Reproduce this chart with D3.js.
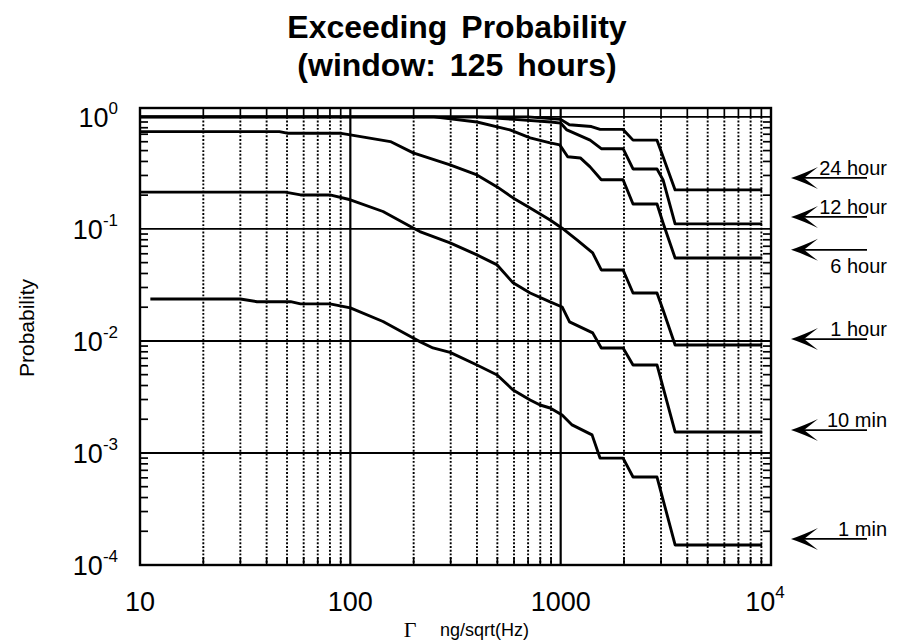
<!DOCTYPE html>
<html>
<head>
<meta charset="utf-8">
<script src="https://cdnjs.cloudflare.com/ajax/libs/d3/7.8.5/d3.min.js"></script>
<style>
  body { margin: 0; background: #fff; }
  svg text { font-family: "Liberation Sans", Arial, Helvetica, sans-serif; fill: #000; }
</style>
</head>
<body>
<svg class="chart" width="901" height="642"></svg>
<script>
// ---- data (gamma in ng/sqrt(Hz), probability) ----
var seriesNames = ["24 hour", "12 hour", "6 hour", "1 hour", "10 min", "1 min"];

var h24Gamma = [10, 700, 1000, 1100, 1400, 1540, 1980, 2208, 2871, 3068, 3500, 9080];
var h24Prob  = [1.0, 1.0, 0.95, 0.85, 0.82, 0.773, 0.773, 0.62, 0.62, 0.44, 0.223, 0.223];

var h12Gamma = [10, 400, 600, 900, 1000, 1070, 1380, 1560, 1980, 2208, 2871, 3068, 3500, 9080];
var h12Prob  = [1.0, 1.0, 0.95, 0.9, 0.88, 0.765, 0.62, 0.52, 0.52, 0.343, 0.343, 0.274, 0.111, 0.111];

var h6Gamma = [10, 250, 400, 574, 716, 891, 990, 1080, 1240, 1380, 1560, 1980, 2208, 2871, 3068, 3500, 9080];
var h6Prob  = [1.0, 1.0, 0.9, 0.765, 0.65, 0.586, 0.562, 0.44, 0.43, 0.358, 0.275, 0.275, 0.167, 0.167, 0.113, 0.055, 0.055];

var h1Gamma = [10, 46, 50, 89, 100, 155, 199, 298, 400, 499, 594, 716, 891, 1016, 1195, 1420, 1560, 1980, 2208, 2871, 3068, 3500, 9080];
var h1Prob  = [0.739, 0.739, 0.715, 0.715, 0.69, 0.602, 0.477, 0.373, 0.303, 0.237, 0.189, 0.154, 0.12, 0.1015, 0.0798, 0.061, 0.043, 0.043, 0.0268, 0.0268, 0.0189, 0.0092, 0.0092];

var m10Gamma = [10, 49, 58, 80, 100, 143, 199, 214, 298, 400, 499, 594, 716, 891, 1016, 1102, 1420, 1560, 1980, 2208, 2871, 3500, 9080];
var m10Prob  = [0.213, 0.213, 0.201, 0.201, 0.182, 0.143, 0.102, 0.0946, 0.075, 0.0586, 0.0477, 0.033, 0.0268, 0.0223, 0.0201, 0.0148, 0.0118, 0.00866, 0.00866, 0.0061, 0.0061, 0.00154, 0.00154];

var m1Gamma = [11.2, 30, 36, 52, 58, 80, 100, 143, 199, 214, 247, 298, 400, 499, 594, 716, 798, 891, 1016, 1133, 1410, 1538, 1980, 2208, 2871, 3500, 9080];
var m1Prob  = [0.0237, 0.0237, 0.0224, 0.0224, 0.0214, 0.0214, 0.0197, 0.0149, 0.0106, 0.00986, 0.00866, 0.0079, 0.0061, 0.00497, 0.00365, 0.00297, 0.00268, 0.00252, 0.00218, 0.00178, 0.00145, 0.0009, 0.0009, 0.00061, 0.00061, 0.000151, 0.000151];

// where the right-hand arrows point
var arrowProb = [0.285, 0.128, 0.065, 0.0104, 0.0016, 0.000171];

// axis tick labels
var xTickVals = [10, 100, 1000, 10000];
var xTickBase = ["10", "100", "1000", "10"];
var xTickSup  = ["", "", "", "4"];
var yTickVals = [1, 0.1, 0.01, 0.001, 0.0001];
var yTickSup  = ["0", "-1", "-2", "-3", "-4"];

var svg = d3.select("svg.chart");

var x = d3.scaleLog().domain([10, 1e4]).range([140, 771]);
var y = d3.scaleLog().domain([1e-4, 1.2]).range([565, 108]);

var plotL = x.range()[0], plotR = x.range()[1],
    plotT = y.range()[1], plotB = y.range()[0];

// minor positions 2..9 of each decade
var minorX = [];
[10, 100, 1000].forEach(function(dec) {
  for (var k = 2; k <= 9; k++) minorX.push(k * dec);
});
var minorY = [];
[1e-4, 1e-3, 1e-2, 1e-1].forEach(function(dec) {
  for (var k = 2; k <= 9; k++) minorY.push(k * dec);
});

var grid = svg.append("g");

// dotted vertical grid
grid.selectAll("line.vminor").data(minorX).enter().append("line")
    .attr("class", "vminor")
    .attr("x1", function(d) { return x(d); })
    .attr("x2", function(d) { return x(d); })
    .attr("y1", y(1))
    .attr("y2", plotB)
    .attr("stroke", "#000")
    .attr("stroke-width", 1.9)
    .attr("stroke-dasharray", "1.9,1.8");

// solid decade lines
grid.selectAll("line.vmajor").data([100, 1000]).enter().append("line")
    .attr("x1", function(d) { return x(d); })
    .attr("x2", function(d) { return x(d); })
    .attr("y1", plotT)
    .attr("y2", plotB)
    .attr("stroke", "#000")
    .attr("stroke-width", 2.2);

grid.selectAll("line.hmajor").data([1, 0.1, 0.01, 0.001]).enter().append("line")
    .attr("x1", plotL)
    .attr("x2", plotR)
    .attr("y1", function(d) { return y(d); })
    .attr("y2", function(d) { return y(d); })
    .attr("stroke", "#000")
    .attr("stroke-width", 1.9);

// ticks
var ticks = svg.append("g").attr("stroke", "#000").attr("stroke-width", 1.7);
ticks.selectAll("line.tt").data(minorX).enter().append("line")
    .attr("x1", function(d) { return x(d); }).attr("x2", function(d) { return x(d); })
    .attr("y1", plotT).attr("y2", y(1));
ticks.selectAll("line.tb").data(minorX).enter().append("line")
    .attr("x1", function(d) { return x(d); }).attr("x2", function(d) { return x(d); })
    .attr("y1", plotB).attr("y2", plotB - 8);
ticks.selectAll("line.tl").data(minorY).enter().append("line")
    .attr("x1", plotL).attr("x2", plotL + 8)
    .attr("y1", function(d) { return y(d); }).attr("y2", function(d) { return y(d); });
ticks.selectAll("line.tr").data(minorY).enter().append("line")
    .attr("x1", plotR).attr("x2", plotR - 8)
    .attr("y1", function(d) { return y(d); }).attr("y2", function(d) { return y(d); });

// frame
svg.append("rect")
    .attr("x", plotL).attr("y", plotT)
    .attr("width", plotR - plotL).attr("height", plotB - plotT)
    .attr("fill", "none").attr("stroke", "#000").attr("stroke-width", 2.4);

// curves
var line = d3.line()
    .x(function(d) { return x(d[0]); })
    .y(function(d) { return y(d[1]); });

var curves = [
  d3.zip(h24Gamma, h24Prob),
  d3.zip(h12Gamma, h12Prob),
  d3.zip(h6Gamma, h6Prob),
  d3.zip(h1Gamma, h1Prob),
  d3.zip(m10Gamma, m10Prob),
  d3.zip(m1Gamma, m1Prob)
];

svg.append("g").selectAll("path").data(curves).enter().append("path")
    .attr("d", line)
    .attr("fill", "none")
    .attr("stroke", "#000")
    .attr("stroke-width", 2.9)
    .attr("stroke-linejoin", "round");

// x tick labels
var xl = svg.append("g").selectAll("text").data(xTickVals).enter().append("text")
    .attr("x", function(d) { return x(d); })
    .attr("y", 611)
    .attr("dx", function(d, i) { return xTickSup[i] ? -6 : 0; })
    .attr("text-anchor", "middle")
    .style("font-size", "27px");
xl.append("tspan").text(function(d, i) { return xTickBase[i]; });
xl.append("tspan")
    .attr("dy", -13)
    .style("font-size", "17px")
    .text(function(d, i) { return xTickSup[i]; });

// y tick labels
var yl = svg.append("g").selectAll("text").data(yTickVals).enter().append("text")
    .attr("x", 118)
    .attr("y", function(d) { return y(d) + 10; })
    .attr("text-anchor", "end")
    .style("font-size", "27px");
yl.append("tspan").text("10");
yl.append("tspan")
    .attr("dy", -13)
    .style("font-size", "17px")
    .text(function(d, i) { return yTickSup[i]; });

// axis titles
svg.append("text")
    .attr("transform", "translate(34,328) rotate(-90)")
    .attr("text-anchor", "middle")
    .style("font-size", "21px")
    .text("Probability");

svg.append("text")
    .attr("x", 410).attr("y", 637)
    .attr("text-anchor", "middle")
    .style("font-family", "'Liberation Serif', 'Times New Roman', serif")
    .style("font-size", "22px")
    .text("\u0393");
svg.append("text")
    .attr("x", 440).attr("y", 636)
    .style("font-size", "18px")
    .text("ng/sqrt(Hz)");

// title
svg.append("text")
    .attr("x", 457).attr("y", 38)
    .attr("text-anchor", "middle")
    .style("font-size", "32px").style("font-weight", "bold")
    .style("word-spacing", "5px")
    .text("Exceeding Probability");
svg.append("text")
    .attr("x", 457).attr("y", 76)
    .attr("text-anchor", "middle")
    .style("font-size", "32px").style("font-weight", "bold")
    .style("word-spacing", "5px")
    .text("(window: 125 hours)");

// arrows on the right
var tipX = 791, tailX = 867;
var arrows = svg.append("g").selectAll("g").data(arrowProb).enter().append("g");
arrows.append("line")
    .attr("x1", tipX + 8).attr("x2", tailX)
    .attr("y1", function(d) { return y(d); })
    .attr("y2", function(d) { return y(d); })
    .attr("stroke", "#000").attr("stroke-width", 1.7);
arrows.append("path")
    .attr("d", function(d) {
      var ty = y(d);
      return "M" + tipX + "," + ty +
             " Q" + (tipX + 12) + "," + (ty - 4) + " " + (tipX + 27) + "," + (ty - 11) +
             " L" + (tipX + 13) + "," + ty +
             " L" + (tipX + 27) + "," + (ty + 11) +
             " Q" + (tipX + 12) + "," + (ty + 4) + " " + tipX + "," + ty + "Z";
    })
    .attr("fill", "#000");
arrows.append("text")
    .attr("x", 887)
    .attr("y", function(d, i) { return seriesNames[i] === "6 hour" ? y(d) + 23 : y(d) - 3; })
    .attr("text-anchor", "end")
    .style("font-size", "20px")
    .text(function(d, i) { return seriesNames[i]; });
</script>
</body>
</html>
